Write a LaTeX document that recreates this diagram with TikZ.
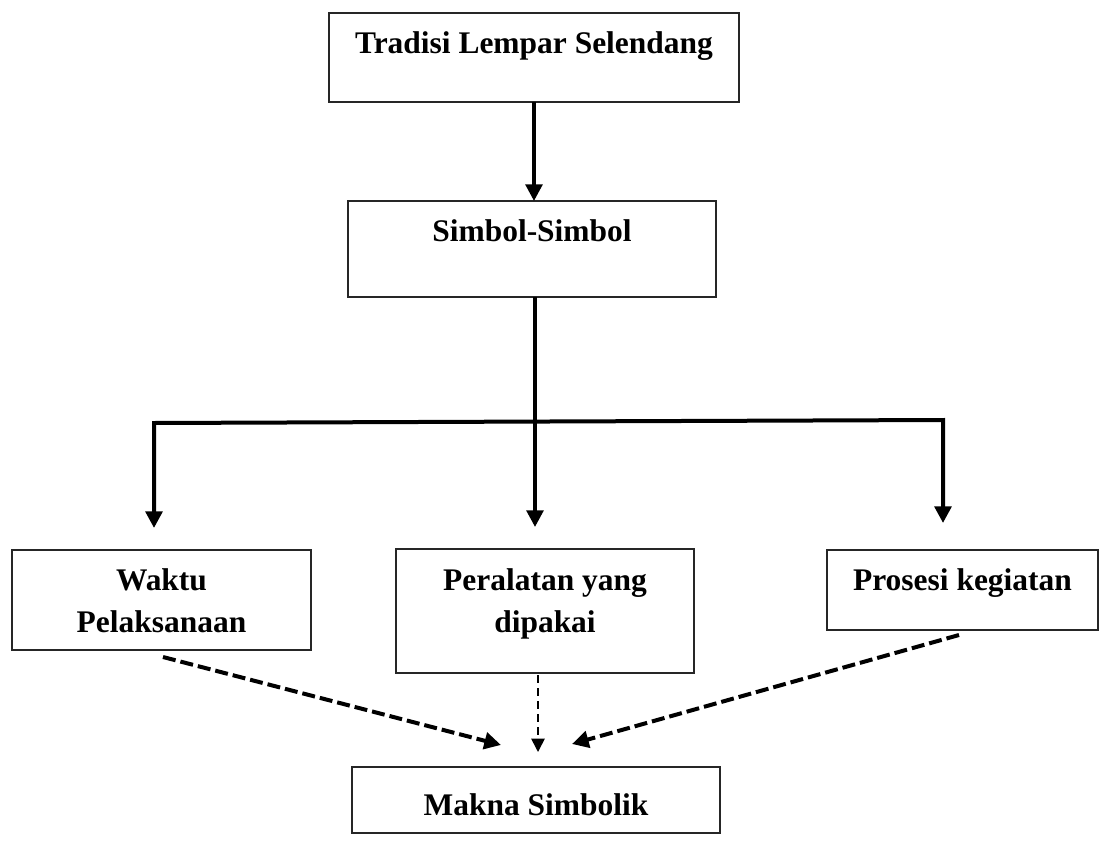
\documentclass[tikz,border=0pt]{standalone}
\usepackage{fontspec}
\setmainfont{Liberation Serif}
\usetikzlibrary{arrows.meta}
\newcommand{\twoln}[2]{\begin{tabular}[t]{@{}c@{}}#1\\#2\end{tabular}}
\tikzset{
  boxnode/.style={draw=black!85, line width=1.1pt, rectangle, anchor=north west,
    inner sep=0pt, outer sep=0pt, align=center,
    font=\fontsize{23.6pt}{31.5pt}\selectfont\bfseries},
  solidarrow/.style={line width=2.8pt, -{Triangle[width=12.5pt,length=12.5pt]}},
  solidline/.style={line width=3pt},
  thickdash/.style={line width=3pt, dash pattern=on 9.75pt off 3.75pt,
    -{Triangle[width=12.5pt,length=12.5pt]}},
  thindash/.style={line width=1.2pt, dash pattern=on 6pt off 3.75pt,
    -{Triangle[width=10pt,length=10pt]}}
}
\begin{document}
\begin{tikzpicture}[x=0.75pt,y=-0.75pt]
\useasboundingbox (0,0) rectangle (1103,846);
\fill[white] (0,0) rectangle (1103,846);

\node[boxnode, minimum width=307.5pt, text height=30pt, text depth=36.75pt] (top) at (329,13) {Tradisi Lempar Selendang};
\node[boxnode, minimum width=276pt, text height=30pt, text depth=42pt] (simbol) at (348,201) {Simbol-Simbol};
\node[boxnode, minimum width=224.25pt, text height=30pt, text depth=45pt] (waktu) at (12,550) {\twoln{Waktu}{Pelaksanaan}};
\node[boxnode, minimum width=223.5pt, text height=30.75pt, text depth=62.25pt] (alat) at (396,549) {\twoln{Peralatan yang}{dipakai}};
\node[boxnode, minimum width=203.25pt, text height=30pt, text depth=30pt] (prosesi) at (827,550) {Prosesi kegiatan};
\node[boxnode, minimum width=276pt, text height=36pt, text depth=13.5pt] (makna) at (352,767) {Makna Simbolik};

\coordinate (jl) at (154,423);
\coordinate (jm) at (535,421.5);
\coordinate (jr) at (943,420);
\coordinate (tl) at (154,528);
\coordinate (tm) at (535,527);
\coordinate (tr) at (943,523);

\draw[solidarrow] (top.south) -- (top.south |- simbol.north);
\draw[solidarrow] (simbol.south -| jm) -- (tm);
\draw[solidline, line join=miter, {Triangle[width=12.5pt,length=12.5pt]}-{Triangle[width=12.5pt,length=12.5pt]}] (tl) -- (jl) -- (jr) -- (tr);

\draw[thickdash] ([shift={(1.5,7)}]waktu.south) -- ([shift={(-35,-22)}]makna.north);
\draw[thindash] ([shift={(-7,2)}]alat.south) -- ([shift={(2,-15)}]makna.north);
\draw[thickdash] ([shift={(-3.5,5)}]prosesi.south) -- ([shift={(36,-23)}]makna.north);
\end{tikzpicture}
\end{document}
